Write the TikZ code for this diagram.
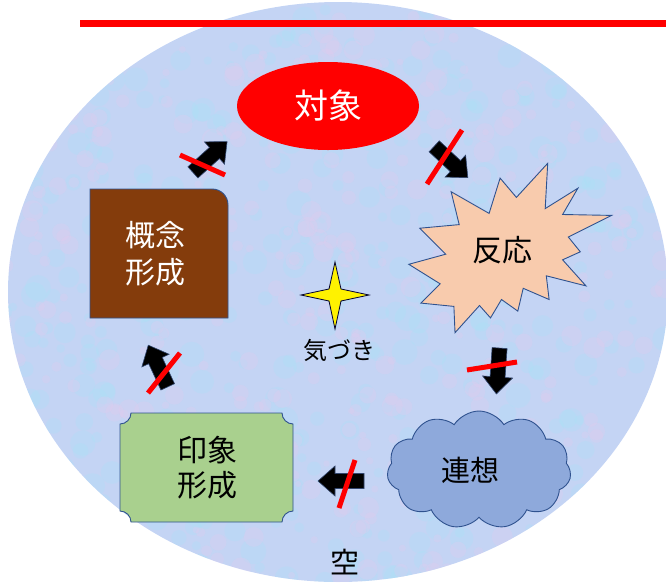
\documentclass[tikz,border=0pt]{standalone}
\usepackage{fontspec}
\setmainfont{Noto Sans CJK JP}
\usetikzlibrary{shapes.symbols}
\definecolor{bgblue}{RGB}{196,212,244}
\definecolor{speckcyan}{RGB}{170,226,248}
\definecolor{speckpink}{RGB}{228,202,238}
\definecolor{outl}{RGB}{47,82,143}
\definecolor{peach}{RGB}{248,203,173}
\definecolor{cloudblue}{RGB}{142,169,219}
\definecolor{plaquegreen}{RGB}{169,208,142}
\definecolor{brownbox}{RGB}{132,60,12}
\definecolor{arrowout}{RGB}{50,70,110}
\tikzset{
  shapeline/.style={draw=outl, line width=0.9pt},
  slash/.style={draw=red, line width=5pt},
  arrowstyle/.style={fill=black, draw=arrowout, line width=0.6pt},
  barrow/.pic={\path[arrowstyle] (-23,-7.5) -- (6,-7.5) -- (6,-15) -- (23,0) -- (6,15) -- (6,7.5) -- (-23,7.5) -- cycle;},
  lbl/.style={align=center, inner sep=0pt},
}
\begin{document}
\begin{tikzpicture}[x=1pt,y=-1pt]
\useasboundingbox (0,0) rectangle (666,582);
% background ellipse with texture
\begin{scope}
\clip (338,292) ellipse [x radius=330, y radius=290];
\fill[bgblue] (0,0) rectangle (666,582);
\pgfmathsetseed{7}
\foreach \i in {1,...,500} {
  \pgfmathsetmacro\xx{rnd*666}
  \pgfmathsetmacro\yy{rnd*582}
  \pgfmathsetmacro\rr{4+rnd*9}
  \fill[speckcyan, opacity=0.28] (\xx,\yy) circle [radius=\rr];
}
\foreach \i in {1,...,420} {
  \pgfmathsetmacro\xx{rnd*666}
  \pgfmathsetmacro\yy{rnd*582}
  \pgfmathsetmacro\rr{3+rnd*8}
  \fill[speckpink, opacity=0.28] (\xx,\yy) circle [radius=\rr];
}
\end{scope}
% red top line
\draw[red, line width=7pt] (80,23) -- (666,23);
% object ellipse
\fill[red] (328,106) ellipse [x radius=91, y radius=44];
\node[lbl, text=white, font=\fontsize{34}{40}\selectfont] (taisho) at (328,106) {対象};
% starburst (explosion)
\path[shapeline, fill=peach] (516.4,197.4) -- (547.7,163.3) -- (545.2,208.6) -- (577.9,188.2) -- (562.6,214.5) -- (611.6,215.4) -- (568.3,237) -- (580.3,251.8) -- (562.6,259.8) -- (586,285.9) -- (546.3,275.8) -- (549.1,299.5) -- (523.2,288.3) -- (517.8,311.1) -- (501.5,299.5) -- (490.5,317.9) -- (479.5,305.5) -- (455,332.7) -- (453.9,306.4) -- (420.9,303.1) -- (440.1,283.8) -- (408.8,264.3) -- (445.7,254.2) -- (419.8,228.2) -- (459.2,224.6) -- (451.1,191.7) -- (489.1,213.4) -- (500.1,178.1) -- cycle;
\node[lbl, font=\fontsize{30}{36}\selectfont] (hanno) at (502,250) {反応};
% cloud
\node[cloud, cloud puffs=11, cloud puff arc=115, aspect=1.6, shapeline, fill=cloudblue, minimum width=184pt, minimum height=118pt, inner sep=0pt] (cloudshape) at (479,470) {};
\node[lbl, font=\fontsize{29}{34}\selectfont] (renso) at (470,470) {連想};
% plaque
\path[shapeline, fill=plaquegreen] (131,413) -- (282,413) .. controls (282,419) and (287,424) .. (293,424) -- (293,511) .. controls (287,511) and (282,516) .. (282,522) -- (131,522) .. controls (131,516) and (126,511) .. (120,511) -- (120,424) .. controls (126,424) and (131,419) .. (131,413) -- cycle;
\node[lbl, font=\fontsize{30}{35}\selectfont] (insho) at (207,468) {印象\\形成};
% brown box
\path[shapeline, fill=brownbox] (90,189) -- (212,189) .. controls (221,189) and (228,196) .. (228,205) -- (228,318) -- (90,318) -- cycle;
\node[lbl, text=white, font=\fontsize{30}{37}\selectfont] (gainen) at (155,254) {概念\\形成};
% star
\path[draw=black!80!blue, line width=0.8pt, fill=yellow] (335,262) -- (341,289) -- (369,295) -- (341,301) -- (335,329) -- (329,301) -- (301,295) -- (329,289) -- cycle;
\node[lbl, font=\fontsize{24}{28}\selectfont] (kizuki) at (339,350) {気づき};
\node[lbl, font=\fontsize{29}{32}\selectfont] (sora) at (345,562) {空};
% arrows
\pic[rotate=42] at (210,157) {barrow};
\pic[rotate=-43] at (451,162) {barrow};
\pic[rotate=-94] at (498,371) {barrow};
\pic[rotate=180] at (341,481) {barrow};
\pic[rotate=115] at (158,366) {barrow};
% slashes
\draw[slash] (180,155) -- (225,175);
\draw[slash] (462,130) -- (427,184);
\draw[slash] (467,370) -- (517,362);
\draw[slash] (355,460) -- (339,508);
\draw[slash] (180,353) -- (148,393);
\end{tikzpicture}
\end{document}
